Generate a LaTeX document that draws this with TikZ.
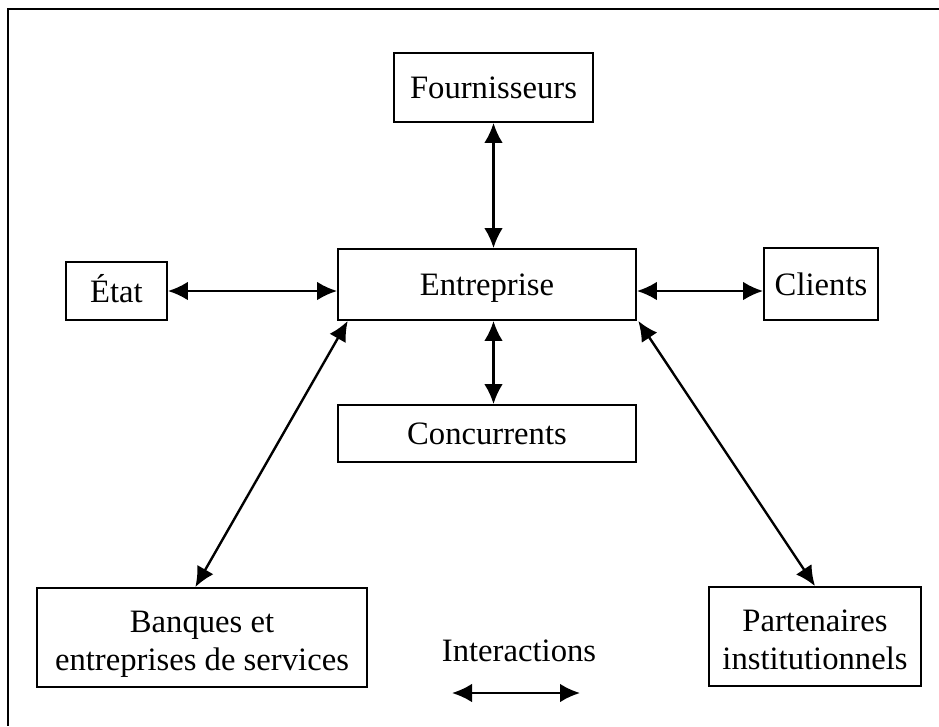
\documentclass[tikz,border=0pt]{standalone}
\usepackage{fontspec}
\setmainfont{Liberation Serif}
\usepackage{tikz}
\usetikzlibrary{arrows.meta,positioning}

\begin{document}
\begin{tikzpicture}[
    x=0.75pt, y=-0.75pt,
    box/.style={rectangle, draw, line width=1.4pt, align=center, inner sep=0pt,
        font=\fontsize{24.5}{28.5}\selectfont, text height=21.5pt, text depth=5pt},
    twoline/.style={text height=53.8pt},
    arrow/.style={{Latex[length=15pt,width=14pt]}-{Latex[length=15pt,width=14pt]}, line width=1.8pt}
]
    \useasboundingbox (0,0) rectangle (939,726);

    % Frame
    \draw[line width=1.5pt] (939,9) -- (8,9) -- (8,726);

    % Centre
    \node[box, minimum width=223.5pt, minimum height=53.25pt] (ent) at (487,284.5) {Entreprise};

    % Partners around
    \node[box, minimum width=149.25pt, minimum height=51.75pt] (four) at (493.5,87.5) {Fournisseurs};
    \node[box, minimum width=75.75pt, minimum height=43.5pt] (etat) at (116.5,291) {État};
    \node[box, minimum width=85.5pt, minimum height=54pt] (clients) at (821,284) {Clients};
    \node[box, minimum width=223.5pt, minimum height=42.75pt] (conc) at (487,433.5) {Concurrents};
    \node[box, twoline, minimum width=247.5pt, minimum height=74.25pt] (banq) at (202,637.5) {Banques et\\entreprises de services};
    \node[box, twoline, minimum width=159pt, minimum height=74.25pt] (part) at (815,636.5) {Partenaires\\institutionnels};

    % Arrows
    \draw[arrow] (four.south) -- (four.south |- ent.north);
    \draw[arrow] (etat.east) -- (ent.west |- etat.east);
    \draw[arrow] (ent.east |- etat.east) -- (clients.west |- etat.east);
    \draw[arrow] (ent.south -| four.south) -- (four.south |- conc.north);
    \draw[arrow] ([xshift=8pt]ent.south west) -- ([xshift=-5pt]banq.north);
    \draw[arrow] ([xshift=1pt]ent.south east) -- (part.north);

    % Legend
    \node[anchor=base, font=\fontsize{24.5}{28.5}\selectfont] (legend) at (519,661) {Interactions};
    \coordinate (lgA) at (452,693);
    \coordinate (lgB) at (580,693);
    \draw[arrow] (lgA) -- (lgB);

\end{tikzpicture}
\end{document}
